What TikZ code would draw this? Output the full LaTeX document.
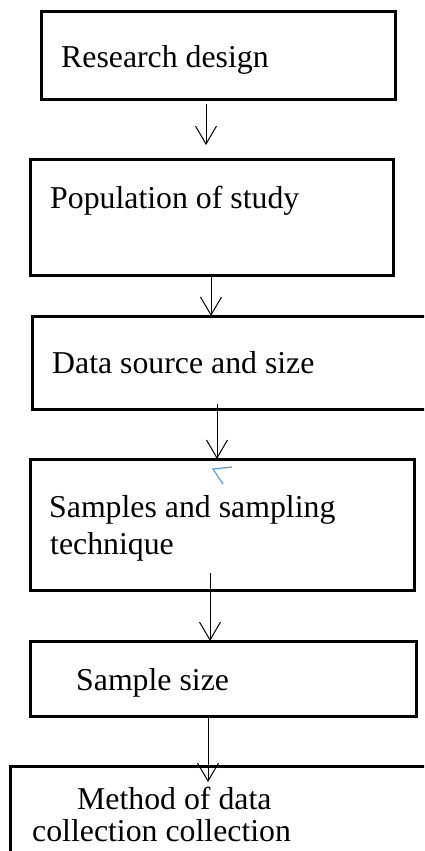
\documentclass[tikz,border=0pt]{standalone}
\usepackage{fontspec}
\setmainfont{Liberation Serif}
\usetikzlibrary{arrows.meta}
\definecolor{penblue}{RGB}{91,155,213}
\begin{document}
\begin{tikzpicture}[
        x=1pt, y=-1pt,
        box/.style = {draw, line width=3pt, rectangle, inner sep=0pt, outer sep=0pt, anchor=north west},
        txt/.style = {inner sep=0pt, anchor=base west, font=\fontsize{31.8pt}{37pt}\selectfont},
        flow/.style = {line width=1pt, -{Straight Barb[length=18pt, width=21pt]}}
    ]
        \useasboundingbox (0,0) rectangle (424,851);
        \clip (0,0) rectangle (424,851);
        % boxes
        \node[box, minimum width=354.5pt, minimum height=87pt] (b1) at (41,12) {};
        \node[box, minimum width=363.5pt, minimum height=116pt] (b2) at (30,159) {};
        \node[box, minimum width=420pt, minimum height=93pt] (b3) at (32,316) {};
        \node[box, minimum width=384pt, minimum height=131pt] (b4) at (30,459) {};
        \node[box, minimum width=386.5pt, minimum height=75pt] (b5) at (30,641) {};
        \node[box, minimum width=440pt, minimum height=150pt] (b6) at (10,766) {};
        % texts
        \node[txt] (t1) at (61,67) {Research design};
        \node[txt] (t2) at (50,208) {Population of study};
        \node[txt] (t3) at (52,373) {Data source and size};
        \node[txt] (t4a) at (49,517) {Samples and sampling};
        \node[txt] (t4b) at (50,554) {technique};
        \node[txt] (t5) at (76,690) {Sample size};
        \node[txt] (t6a) at (77,809) {Method of data};
        \node[txt] (t6b) at (32,841) {collection collection};
        % arrows
        \draw[flow] ([yshift=-5pt]b1.south -| 206,0) -- ([yshift=14pt]b2.north -| 206,0);
        \draw[flow] (b2.south -| 211,0) -- (b3.north -| 211,0);
        \draw[flow] ([yshift=5pt]b3.south -| 217,0) -- (b4.north -| 217,0);
        \draw[flow] ([yshift=17pt]b4.south -| 210,0) -- (b5.north -| 210,0);
        \draw[flow] (b5.south -| 208,0) -- ([yshift=-16pt]b6.north -| 208,0);
        % stray pen mark
        \draw[penblue, line width=1.2pt] (232,467) -- (213,469) -- (223,484);
    \end{tikzpicture}
\end{document}
